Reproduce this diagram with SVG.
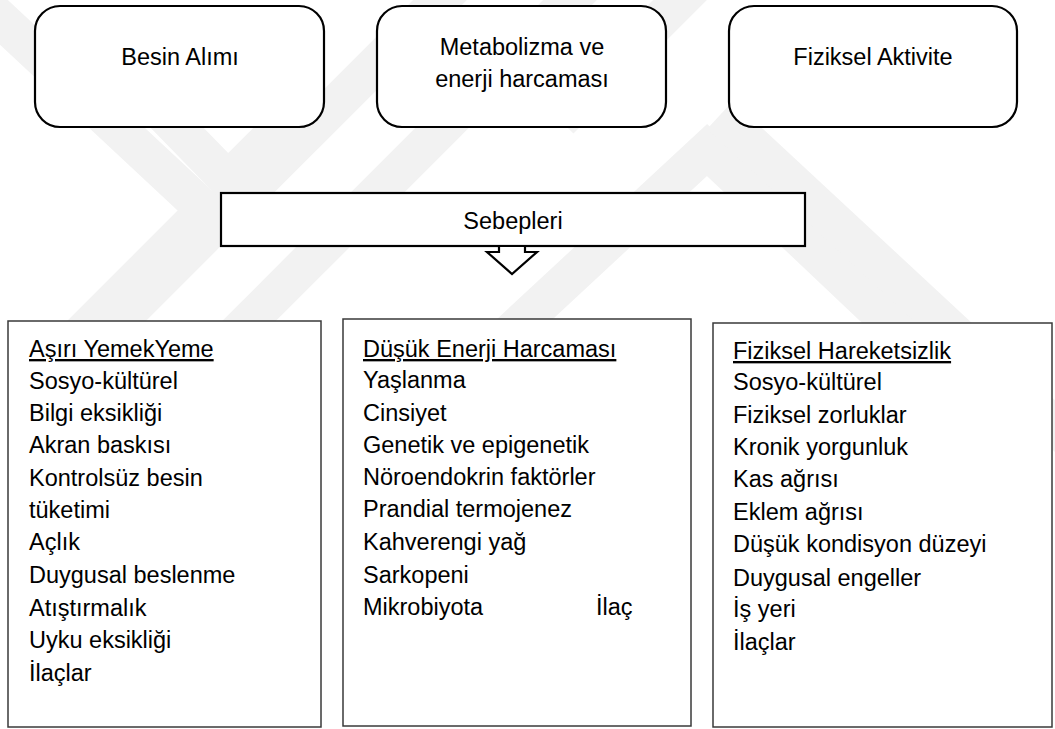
<svg xmlns="http://www.w3.org/2000/svg" width="1055" height="729" viewBox="0 0 1055 729">
<style>
  .wm { fill: none; stroke: #f2f2f2; stroke-width: 38; stroke-linejoin: miter; }
  .top { fill: #ffffff; stroke: #000000; stroke-width: 2.2; }
  .col { fill: #ffffff; stroke: #3a3a3a; stroke-width: 1.5; }
  .t { font-family: "Liberation Sans", Arial, sans-serif; font-size: 23.5px; fill: #000000; }
  .c { text-anchor: middle; }
  .u { text-decoration: underline; }
</style>
<rect x="0" y="0" width="1055" height="729" fill="#ffffff"/>
<g id="watermark">
  <polyline class="wm" points="-20,0 205,210 60,355"/>
  <polyline class="wm" points="150,100 228,180 300,108"/>
  <polyline class="wm" points="60,380 460,-20"/>
  <polyline class="wm" points="190,380 590,-20"/>
  <polyline class="wm" points="470,370 707,150 950,380"/>
  <polyline class="wm" points="720,115 1070,440"/>
  <polyline class="wm" points="560,120 700,-20"/>
</g>
<g id="node-besin">
  <rect class="top" x="35" y="6" width="289" height="121" rx="25"/>
  <text class="t c" x="180" y="65">Besin Alımı</text>
</g>
<g id="node-metabolizma">
  <rect class="top" x="377" y="6" width="289" height="121" rx="25"/>
  <text class="t c" x="522" y="55">Metabolizma ve</text>
  <text class="t c" x="522" y="87">enerji harcaması</text>
</g>
<g id="node-fiziksel">
  <rect class="top" x="729" y="6" width="288" height="121" rx="25"/>
  <text class="t c" x="873" y="65">Fiziksel Aktivite</text>
</g>
<g id="node-sebepleri">
  <rect class="top" x="221" y="193" width="584" height="53"/>
  <text class="t c" x="513" y="229">Sebepleri</text>
</g>
<g id="connectors">
  <polygon points="499,246 525,246 525,252 537,252 512,274 487,252 499,252" fill="#ffffff" stroke="#000000" stroke-width="2.2" stroke-linejoin="miter"/>
</g>
<g id="node-asiri">
  <rect class="col" x="8" y="321" width="313" height="406"/>
  <text class="t u" x="29" y="357">Aşırı YemekYeme</text>
  <text class="t" x="29" y="389">Sosyo-kültürel</text>
  <text class="t" x="29" y="421">Bilgi eksikliği</text>
  <text class="t" x="29" y="453">Akran baskısı</text>
  <text class="t" x="29" y="486">Kontrolsüz besin</text>
  <text class="t" x="29" y="518">tüketimi</text>
  <text class="t" x="29" y="550">Açlık</text>
  <text class="t" x="29" y="583">Duygusal beslenme</text>
  <text class="t" x="29" y="616">Atıştırmalık</text>
  <text class="t" x="29" y="648">Uyku eksikliği</text>
  <text class="t" x="29" y="681">İlaçlar</text>
</g>
<g id="node-dusuk">
  <rect class="col" x="343" y="319" width="348" height="407"/>
  <text class="t u" x="363" y="357">Düşük Enerji Harcaması</text>
  <text class="t" x="363" y="388">Yaşlanma</text>
  <text class="t" x="363" y="421">Cinsiyet</text>
  <text class="t" x="363" y="453">Genetik ve epigenetik</text>
  <text class="t" x="363" y="485">Nöroendokrin faktörler</text>
  <text class="t" x="363" y="517">Prandial termojenez</text>
  <text class="t" x="363" y="550">Kahverengi yağ</text>
  <text class="t" x="363" y="583">Sarkopeni</text>
  <text class="t" x="363" y="615">Mikrobiyota</text>
  <text class="t" x="596" y="615">İlaç</text>
</g>
<g id="node-fiziksel-hareketsizlik">
  <rect class="col" x="713" y="323" width="339" height="404"/>
  <text class="t u" x="733" y="359">Fiziksel Hareketsizlik</text>
  <text class="t" x="733" y="390">Sosyo-kültürel</text>
  <text class="t" x="733" y="423">Fiziksel zorluklar</text>
  <text class="t" x="733" y="455">Kronik yorgunluk</text>
  <text class="t" x="733" y="487">Kas ağrısı</text>
  <text class="t" x="733" y="520">Eklem ağrısı</text>
  <text class="t" x="733" y="552">Düşük kondisyon düzeyi</text>
  <text class="t" x="733" y="586">Duygusal engeller</text>
  <text class="t" x="733" y="617">İş yeri</text>
  <text class="t" x="733" y="650">İlaçlar</text>
</g>
</svg>
